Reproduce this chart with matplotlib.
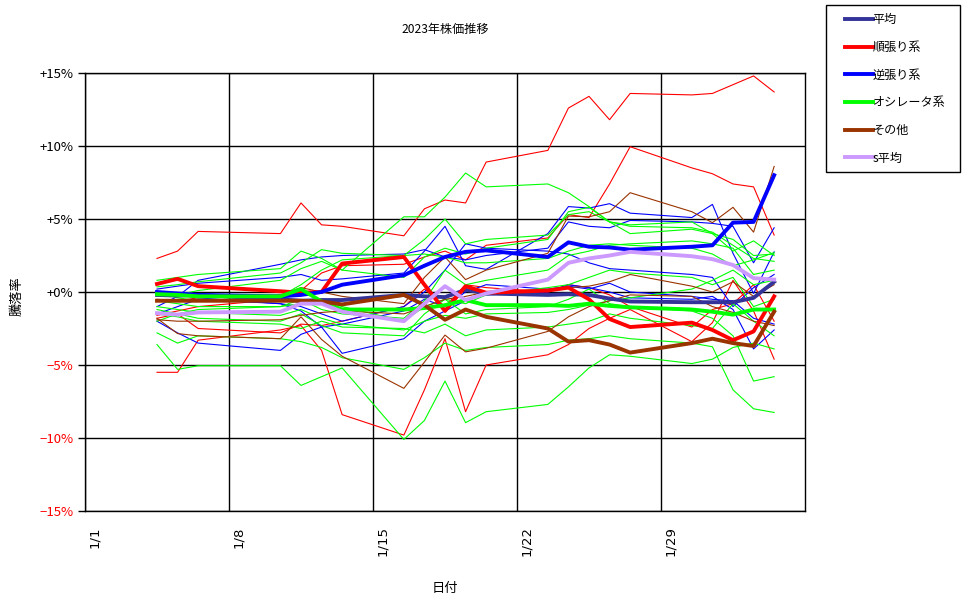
import pandas as pd
import matplotlib
matplotlib.use('Agg')
import matplotlib.pyplot as plt
from matplotlib.patches import Rectangle

plt.rcParams['font.family'] = ['Noto Sans CJK JP', 'DejaVu Sans']

# 取引日 (1/4 ~ 2/3)
days = ['2023-01-04', '2023-01-05', '2023-01-06', '2023-01-10', '2023-01-11',
        '2023-01-12', '2023-01-13', '2023-01-16', '2023-01-17', '2023-01-18',
        '2023-01-19', '2023-01-20', '2023-01-23', '2023-01-24', '2023-01-25',
        '2023-01-26', '2023-01-27', '2023-01-30', '2023-01-31', '2023-02-01',
        '2023-02-02', '2023-02-03']

# 個別銘柄 (細線) 騰落率 %
jun = [
    [2.3, 2.8, 4.15, 4.0, 6.1, 4.6, 4.5, 3.85, 5.7, 6.3, 6.1, 8.9, 9.7, 12.6, 13.4, 11.8, 13.6, 13.5, 13.6, 14.2, 14.8, 13.7],
    [-1.6, -1.3, -1.0, -0.5, 0.1, 1.3, 1.8, 1.9, 2.4, 2.8, 2.2, 3.2, 3.7, 5.3, 5.1, 7.4, 9.95, 8.5, 8.1, 7.4, 7.2, 3.9],
    [-5.5, -5.5, -3.3, -2.6, -2.3, -4.0, -8.4, -9.8, -6.7, -3.2, -8.2, -5.0, -4.3, -3.6, -2.5, -1.8, -1.2, -3.4, -2.1, 0.8, -1.3, -4.6],
    [-1.8, -1.5, -2.5, -2.8, -2.2, -2.3, -2.0, -1.0, 0.2, -1.0, 0.5, 0.3, 0.0, 0.5, 0.3, -0.2, -1.0, -2.4, -1.2, -0.8, 0.5, -2.0],
]
gyaku = [
    [-1.0, -0.3, 0.8, 1.9, 2.2, 2.4, 2.5, 2.6, 2.9, 2.4, 2.2, 2.5, 3.0, 4.8, 4.5, 4.4, 4.9, 4.8, 4.7, 4.5, 2.0, 4.4],
    [0.2, 0.4, 0.6, 1.0, 1.2, 0.8, 0.9, 1.3, 2.8, 4.5, 1.8, 1.55, 4.0, 5.85, 5.75, 6.05, 5.4, 5.1, 6.0, 2.65, -0.1, 2.75],
    [-2.0, -2.8, -3.5, -4.0, -2.9, -2.4, -2.2, -1.3, -0.5, -1.0, 0.0, 0.5, 0.2, 0.4, 0.2, 0.6, 0.0, -0.3, -0.5, -0.6, -1.8, -2.2],
    [0.0, -0.2, -0.4, -0.8, -1.3, -2.4, -4.2, -3.2, -2.0, -1.3, -0.6, -0.2, 0.0, 0.5, 0.3, 0.0, -0.4, -0.5, -0.3, -1.2, -3.9, -2.6],
    [-1.5, -1.0, -0.5, -0.8, -1.0, -1.5, -2.0, -1.0, 0.0, 1.5, 3.3, 3.0, 2.8, 2.6, 2.0, 1.6, 1.5, 1.2, 1.0, -1.0, 0.3, 1.2],
]
osc = [
    [0.35, 0.5, 0.7, 1.3, 2.0, 2.9, 2.65, 2.5, 3.6, 5.0, 3.3, 3.6, 3.9, 5.3, 5.5, 4.8, 4.5, 4.4, 4.1, 3.2, 2.3, 2.1],
    [-0.3, -0.2, 0.1, 0.8, 1.6, 2.1, 1.5, 5.15, 5.15, 6.5, 8.15, 7.2, 7.4, 6.8, 5.85, 4.8, 4.0, 4.3, 4.0, 3.6, 2.5, 2.6],
    [-3.6, -5.3, -5.05, -5.05, -6.4, -5.8, -5.2, -10.1, -8.8, -6.1, -8.95, -8.2, -7.7, -6.5, -5.2, -4.3, -4.4, -4.9, -4.6, -3.8, -3.5, -3.9],
    [-2.8, -3.5, -3.0, -3.2, -3.4, -3.8, -4.5, -5.3, -4.5, -3.5, -4.0, -3.8, -3.6, -3.3, -3.2, -3.0, -3.2, -3.5, -3.75, -6.7, -8.0, -8.25],
    [-1.2, -1.5, -1.8, -2.0, -1.5, -2.3, -2.8, -3.0, -1.5, -0.5, -1.5, -1.2, -1.0, -0.5, 0.2, -0.8, -1.0, -1.3, -1.8, -3.0, -6.1, -5.8],
    [0.0, -0.4, -0.6, -0.3, 0.5, 1.5, 2.2, 2.5, 2.6, 2.4, 2.0, 2.0, 2.3, 2.8, 3.2, 3.3, 3.2, 3.0, 2.6, 1.8, 2.2, 2.7],
    [-0.6, -0.8, -1.0, -1.0, -0.5, -1.2, -1.5, -1.8, -0.6, 1.5, 0.5, 0.8, 1.5, 2.5, 2.8, 3.2, 3.3, 3.5, 3.3, 3.0, 1.2, 1.5],
    [-1.5, -1.7, -2.0, -2.2, -2.5, -2.0, -2.4, -2.5, -2.8, -2.2, -3.0, -2.6, -2.4, -2.2, -2.0, -1.5, -1.8, -2.3, -2.5, -0.8, -2.0, -3.0],
    [-2.0, -1.5, -1.2, -1.0, -0.8, -0.5, -1.0, -2.0, -1.0, -0.5, -0.8, -0.2, 0.3, 0.5, 1.0, 1.5, 1.3, 1.0, 0.5, 1.0, -1.0, -0.5],
    [0.8, 1.0, 1.2, 1.6, 2.8, 2.3, 1.5, 1.0, 2.4, 3.0, 2.6, 3.0, 3.6, 5.5, 5.8, 4.8, 4.6, 4.8, 4.0, 2.8, 3.5, 2.5],
    [-1.0, -1.2, -1.4, -1.6, -1.2, -1.8, -2.2, -2.6, -2.0, -1.6, -1.8, -1.5, -1.4, -1.2, -0.9, -0.6, -0.4, 0.2, 0.8, 1.5, 0.5, 0.8],
]
sonota = [
    [-0.5, -0.6, -0.4, -0.2, 0.3, 0.0, -0.3, -0.8, 1.0, 2.4, 0.85, 1.5, 2.65, 5.2, 5.15, 5.5, 6.8, 5.5, 4.75, 5.8, 4.1, 8.6],
    [-1.8, -2.85, -3.0, -3.2, -1.7, -3.25, -4.4, -6.6, -4.8, -2.95, -4.1, -3.85, -2.7, -1.7, -1.0, -0.6, -0.2, -0.3, -1.0, -1.4, -2.0, -2.3],
    [-1.9, -2.0, -2.0, -1.9, -1.6, -1.4, -1.3, -1.5, -1.0, -0.5, -0.3, 0.0, 0.1, 0.3, 0.4, 0.7, 1.2, 0.4, 0.0, 0.7, -0.3, 0.5],
]

# 平均 (太線)
avg_all = [-0.2, -0.25, -0.2, -0.5, -0.6, -0.55, -0.55, -0.2, -0.3, -0.35, 0.15, -0.1, -0.2, -0.15, -0.2, -0.45, -0.65, -0.7, -0.7, -0.7, -0.4, 0.7]
avg_jun = [0.55, 0.9, 0.4, 0.05, -0.05, 0.0, 1.95, 2.4, 0.5, -1.3, 0.4, -0.05, 0.1, 0.3, -0.5, -1.85, -2.4, -2.1, -2.6, -3.3, -2.7, -0.3]
avg_gyaku = [0.0, -0.1, -0.2, -0.3, -0.2, 0.0, 0.5, 1.15, 1.8, 2.4, 2.75, 2.85, 2.4, 3.4, 3.1, 3.05, 2.9, 3.1, 3.2, 4.75, 4.8, 8.0]
avg_osc = [-0.15, -0.2, -0.3, -0.3, 0.2, -0.65, -1.2, -1.2, -1.1, -0.9, -0.55, -0.9, -0.9, -0.95, -0.8, -0.95, -1.05, -1.2, -1.35, -1.55, -1.2, -1.2]
avg_sonota = [-0.6, -0.6, -0.6, -0.6, -0.6, -0.65, -0.85, -0.2, -0.9, -1.9, -1.2, -1.7, -2.5, -3.4, -3.3, -3.6, -4.15, -3.5, -3.2, -3.5, -3.7, -1.35]
avg_s = [-1.45, -1.55, -1.4, -1.35, -0.8, -0.8, -1.35, -2.0, -0.8, 0.4, -0.55, -0.1, 0.85, 2.0, 2.3, 2.5, 2.75, 2.45, 2.25, 1.85, 0.95, 0.85]

tick_days = ['2023-01-01', '2023-01-08', '2023-01-15', '2023-01-22', '2023-01-29']

x = pd.to_datetime(days) + pd.Timedelta(hours=12)

fig = plt.figure(figsize=(9.7, 6.04), dpi=100)
ax = fig.add_axes([85 / 970, 1 - 511 / 604, 720 / 970, 438 / 604])

for s in jun:
    ax.plot(x, s, color='#FF0000', lw=0.8)
for s in gyaku:
    ax.plot(x, s, color='#0000FF', lw=0.8)
for s in osc:
    ax.plot(x, s, color='#00FF00', lw=0.8)
for s in sonota:
    ax.plot(x, s, color='#993300', lw=0.8)

thick = [
    (avg_all, '#333399', '平均'),
    (avg_jun, '#FF0000', '順張り系'),
    (avg_gyaku, '#0000FF', '逆張り系'),
    (avg_osc, '#00FF00', 'オシレータ系'),
    (avg_sonota, '#993300', 'その他'),
    (avg_s, '#CC99FF', 's平均'),
]
handles = []
for vals, col, lab in thick:
    h, = ax.plot(x, vals, color=col, lw=2.8, label=lab)
    handles.append(h)

ax.set_xlim(pd.Timestamp('2023-01-01'), pd.Timestamp('2023-02-05'))
ax.set_ylim(-15, 15)
ticks = pd.to_datetime(tick_days)
ax.set_xticks(ticks)
ax.set_xticklabels([])
# 日付ラベル (目盛りの少し右に縦書き)
for t in ticks:
    ax.annotate(f'{t.month}/{t.day}', xy=(t, 0), xycoords=('data', 'axes fraction'),
                xytext=(7, -11), textcoords='offset points', rotation=90,
                ha='center', va='top', fontsize=9.5, family='DejaVu Sans')
yt = [-15, -10, -5, 0, 5, 10, 15]
ax.set_yticks(yt)
ax.set_yticklabels([f'+{v}%' if v >= 0 else f'\u2212{-v}%' for v in yt], fontsize=9.5)
for lab, v in zip(ax.get_yticklabels(), yt):
    if v < 0:
        lab.set_color('#FF0000')
ax.tick_params(axis='y', direction='out', length=5, width=1, color='black', pad=3.5)
ax.tick_params(axis='x', length=0)
ax.grid(True, color='black', lw=1)
for sp in ax.spines.values():
    sp.set_color('black')
    sp.set_linewidth(1)

ax.set_title('2023年株価推移', fontsize=8.7, pad=29)
ax.set_xlabel('日付', fontsize=9.5)
ax.xaxis.set_label_coords((445 - 85) / 720, (511 - 582) / 438)
ax.set_ylabel('騰落率', fontsize=9.5)
ax.yaxis.set_label_coords((24 - 85) / 720, 0.49)

# 凡例 (外枠は別に描く)
fig.patches.append(Rectangle((826 / 970, 1 - 172 / 604), 134 / 970, 167 / 604,
                             transform=fig.transFigure, fill=False,
                             edgecolor='black', lw=1))
fig.legend(handles=handles, loc='upper left', bbox_to_anchor=(845 / 970, 1 - 13 / 604),
           fontsize=8.7, frameon=False, handlelength=2.3, handletextpad=0.0,
           labelspacing=1.22, borderpad=0, borderaxespad=0)

fig.savefig('out.png', dpi=100)
